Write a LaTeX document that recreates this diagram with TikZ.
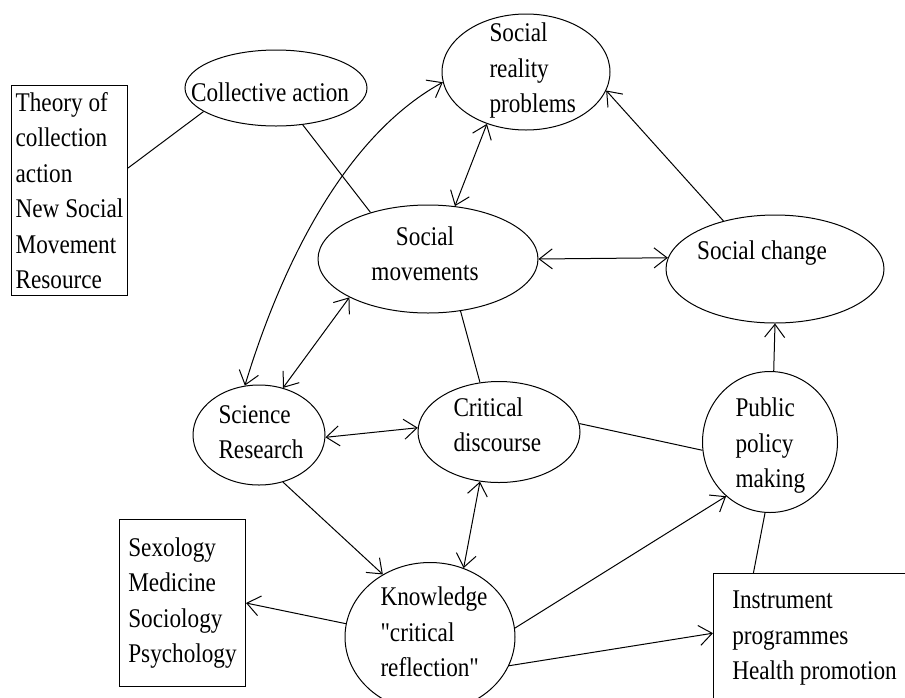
\documentclass[tikz,border=0pt]{standalone}
\usepackage{fontspec}
\setmainfont{Liberation Serif}[FakeStretch=0.86,Ligatures=TeXOff]
\usetikzlibrary{shapes.geometric,arrows.meta}

\begin{document}
\begin{tikzpicture}[x=1pt,y=-1pt,line width=1pt,
    bubble/.style={draw,ellipse,inner sep=0pt},
    txt/.style={inner sep=0pt,align=left,font=\fontsize{27}{35.5}\selectfont},
    infobox/.style={draw,rectangle,inner sep=0pt,align=left,anchor=north west,font=\fontsize{27}{35.5}\selectfont},
    tip/.tip={Straight Barb[length=13pt,width=20pt]},
    arr/.style={-tip},
    darr/.style={tip-tip}]
        \useasboundingbox (0,0) rectangle (905,697);
        \clip (0,0) rectangle (905,697);

        % side boxes
        \node[infobox,minimum width=116,minimum height=210] (theory) at (11,85) {Theory of\\collection\\action\\New Social\\Movement\\Resource};
        \node[infobox,minimum width=126,minimum height=167] (sexology) at (119,519) {Sexology\\Medicine\\Sociology\\Psychology};
        \node[infobox,minimum width=202,minimum height=130] (instrument) at (713,573) {Instrument\\programmes\\Health promotion};

        % ellipses
        \node[bubble,minimum width=182,minimum height=76] (collective) at (276,88) {};
        \node[bubble,minimum width=168,minimum height=116] (reality) at (526,72) {};
        \node[bubble,minimum width=220,minimum height=108] (movements) at (428,259) {};
        \node[bubble,minimum width=218,minimum height=108] (change) at (775,269) {};
        \node[bubble,minimum width=132,minimum height=100] (science) at (259,435) {};
        \node[bubble,minimum width=162,minimum height=101] (critical) at (499,432) {};
        \node[bubble,minimum width=135,minimum height=141] (policy) at (770,442) {};
        \node[bubble,minimum width=170,minimum height=149] (knowledge) at (430,637) {};

        % labels
        \node[txt] (collectivetxt) at (270,92) {Collective action};
        \node[txt,anchor=west] (realitytxt) at (489,71) {Social\\reality\\problems};
        \node[txt,align=center] (movementstxt) at (425,254) {Social\\movements};
        \node[txt] (changetxt) at (762,253) {Social change};
        \node[txt,anchor=west] (sciencetxt) at (218,432) {Science\\Research};
        \node[txt,anchor=west] (criticaltxt) at (453,425) {Critical\\discourse};
        \node[txt,anchor=west] (policytxt) at (735,446) {Public\\policy\\making};
        \node[txt,anchor=west] (knowledgetxt) at (380,632) {Knowledge\\"critical\\reflection"};

        % plain links
        \draw (theory.21) -- (collective.198);
        \draw (collective.306) -- (movements.141);
        \draw (movements.302) -- (critical.111);
        \draw (critical.6) -- (policy.187);
        \draw (policy.266) -- (instrument.133);

        % two-way links
        \draw[darr] (science.106) .. controls (277,280) and (338,140) .. (reality.187);
        \draw[darr] (reality.233) -- (movements.63);
        \draw[darr] (movements.0) -- (change.174);
        \draw[darr] (movements.206) -- (science.63);
        \draw[darr] (science.358) -- (critical.177);
        \draw[darr] (critical.249) -- (knowledge.64);

        % one-way links
        \draw[arr] (change.137) -- (reality.347);
        \draw[arr] (policy.87) -- (change.south);
        \draw[arr] (science.297) -- (knowledge.127);
        \draw[arr] (knowledge.171) -- (sexology.east);
        \draw[arr] (knowledge.6) -- (policy.231);
        \draw[arr] (knowledge.340) -- (instrument.177);
\end{tikzpicture}
\end{document}
